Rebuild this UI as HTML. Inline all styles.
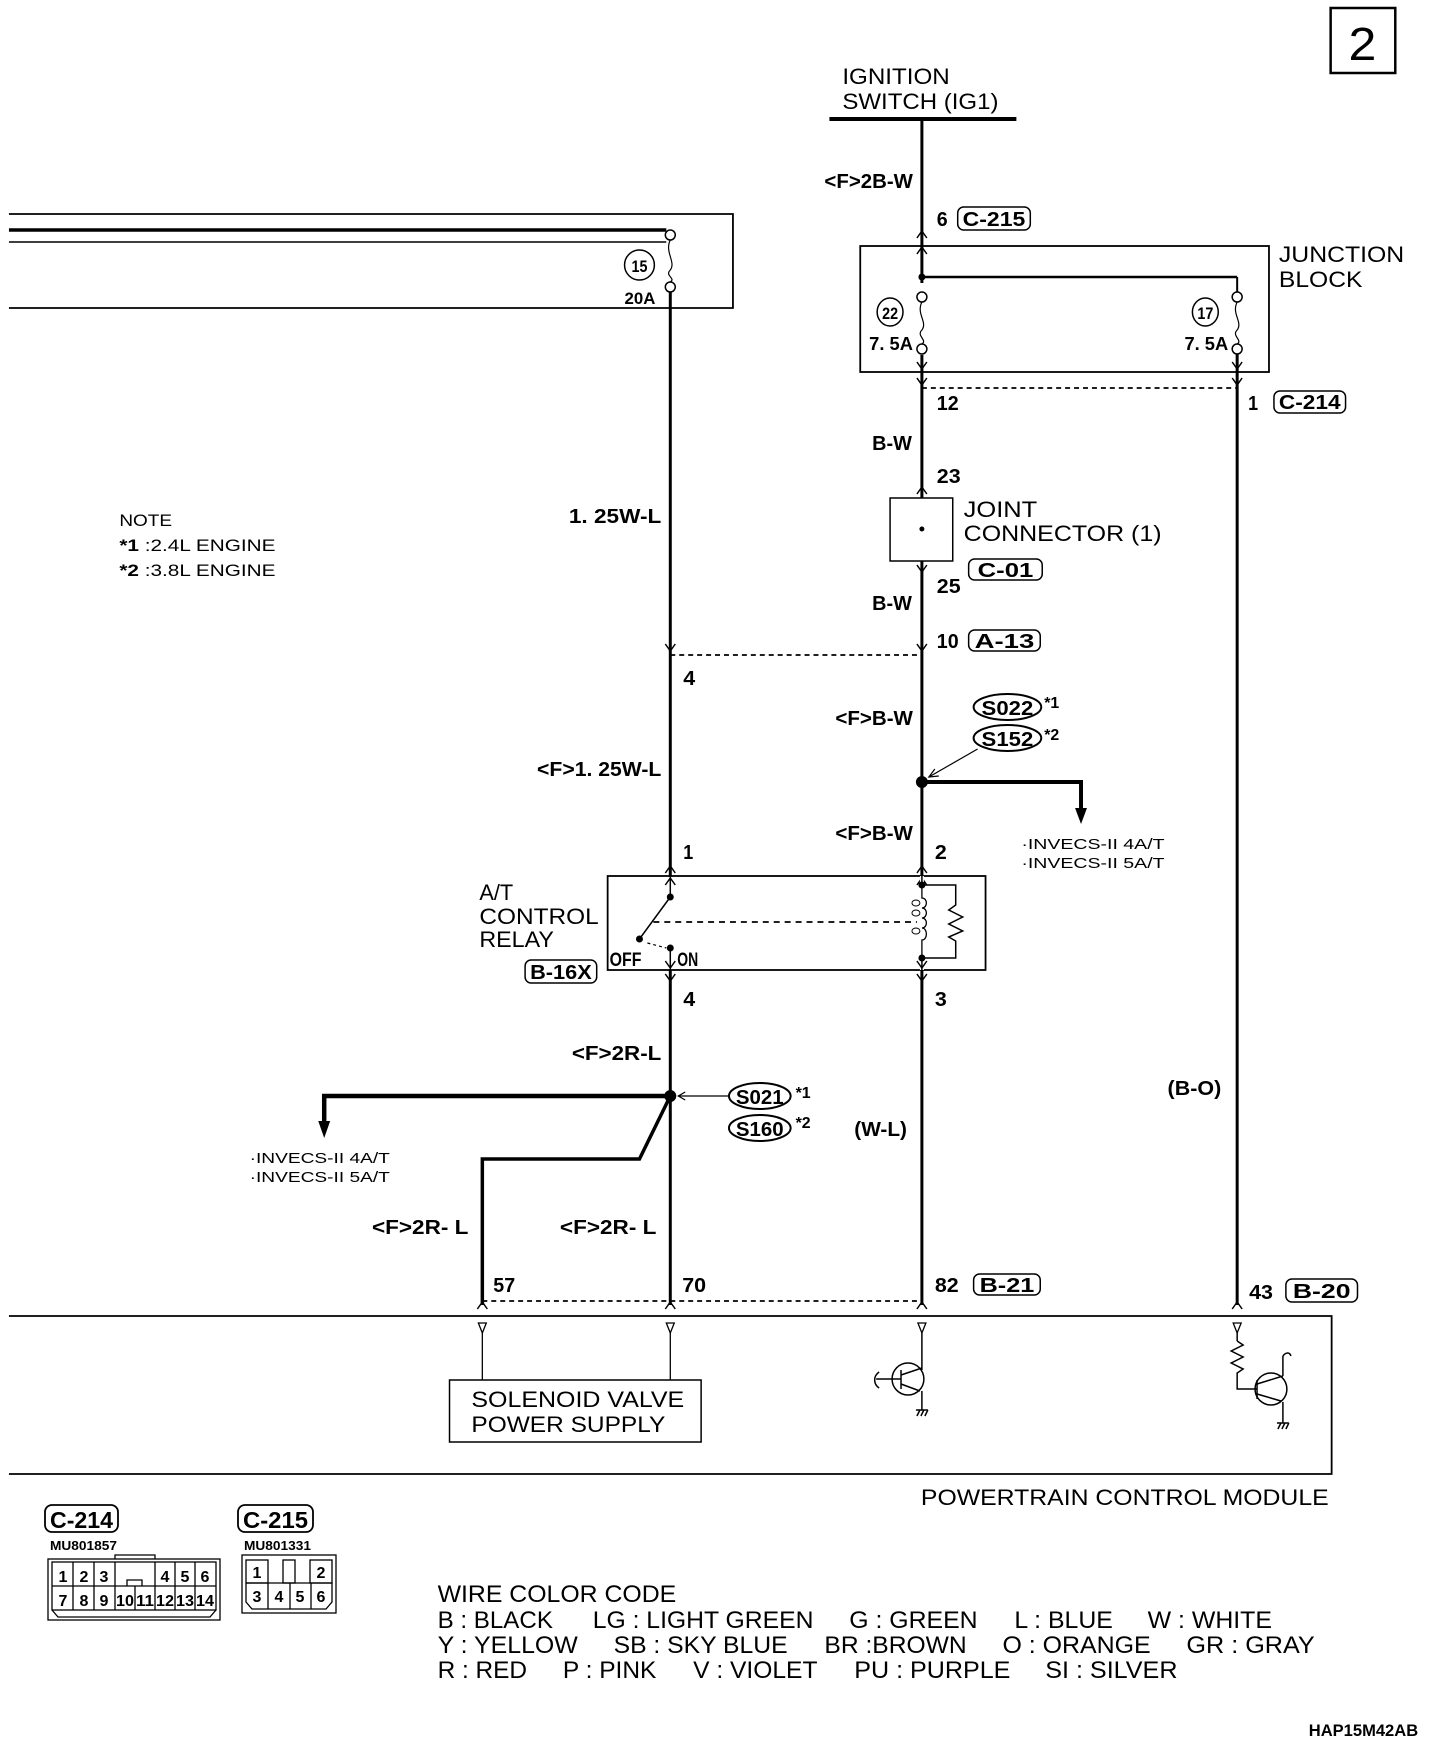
<!DOCTYPE html>
<html><head><meta charset="utf-8"><style>
html,body{margin:0;padding:0;background:#fff;}
svg{display:block;}
text{font-family:"Liberation Sans",sans-serif;fill:#000;}
.b{font-weight:bold;}
</style></head><body>
<svg width="1440" height="1740" viewBox="0 0 1440 1740" xmlns="http://www.w3.org/2000/svg">
<defs>
<g id="up"><polyline points="-5,7 0,0 5,7" fill="none" stroke="#000" stroke-width="1.5"/></g>
<g id="dn"><polyline points="-5,-7 0,0 5,-7" fill="none" stroke="#000" stroke-width="1.5"/></g>
</defs>
<g transform="scale(0.9945 1)" stroke-linecap="butt">
<!-- page number -->
<rect x="1338" y="8" width="65" height="65" fill="none" stroke="#000" stroke-width="2.5"/>
<text x="1370" y="60" font-size="46" text-anchor="middle" textLength="28" lengthAdjust="spacingAndGlyphs">2</text>

<!-- ignition -->
<text x="847" y="84" font-size="22" textLength="108" lengthAdjust="spacingAndGlyphs">IGNITION</text>
<text x="847" y="109" font-size="22" textLength="157" lengthAdjust="spacingAndGlyphs">SWITCH (IG1)</text>
<line x1="834" y1="119" x2="1022" y2="119" stroke="#000" stroke-width="4"/>
<line x1="927" y1="119" x2="927" y2="1305" stroke="#000" stroke-width="3"/>
<text x="829" y="188" font-size="20" class="b" textLength="89" lengthAdjust="spacingAndGlyphs">&lt;F&gt;2B-W</text>
<text x="942" y="226" font-size="20" class="b" textLength="11" lengthAdjust="spacingAndGlyphs">6</text>
<rect x="963" y="207" width="73" height="23" rx="6" fill="none" stroke="#000" stroke-width="1.5"/>
<text x="968" y="226" font-size="20" class="b" textLength="63" lengthAdjust="spacingAndGlyphs">C-215</text>
<use href="#up" x="927" y="231"/><use href="#up" x="927" y="247"/>

<!-- top-left box -->
<polyline points="9,214 737,214 737,308 9,308" fill="none" stroke="#000" stroke-width="1.8"/>
<line x1="9" y1="230" x2="670" y2="230" stroke="#000" stroke-width="3.5"/>
<line x1="9" y1="242" x2="670" y2="242" stroke="#000" stroke-width="1.5"/>
<circle cx="674" cy="235" r="5" fill="#fff" stroke="#000" stroke-width="1.5"/>
<circle cx="674" cy="287" r="5" fill="#fff" stroke="#000" stroke-width="1.5"/>
<path d="M674,240 C668,252 680,262 674,270 C668,276 680,278 674,282" fill="none" stroke="#000" stroke-width="1.2"/>
<ellipse cx="643" cy="265" rx="15" ry="15" fill="none" stroke="#000" stroke-width="1.5"/>
<text x="643" y="272" font-size="17" class="b" text-anchor="middle" textLength="16" lengthAdjust="spacingAndGlyphs">15</text>
<text x="628" y="304" font-size="17" class="b" textLength="31" lengthAdjust="spacingAndGlyphs">20A</text>
<line x1="674" y1="292" x2="674" y2="1305" stroke="#000" stroke-width="3"/>

<!-- junction block -->
<rect x="865" y="246" width="411" height="126" fill="none" stroke="#000" stroke-width="1.8"/>
<text x="1286" y="262" font-size="22" textLength="126" lengthAdjust="spacingAndGlyphs">JUNCTION</text>
<text x="1286" y="287" font-size="22" textLength="84" lengthAdjust="spacingAndGlyphs">BLOCK</text>
<line x1="927" y1="277" x2="1244" y2="277" stroke="#000" stroke-width="2.5"/>
<line x1="1244" y1="277" x2="1244" y2="292" stroke="#000" stroke-width="2"/>
<circle cx="927" cy="277" r="3.5" fill="#000"/>
<rect x="920" y="283" width="14" height="72" fill="#fff"/>
<circle cx="927" cy="297" r="5" fill="#fff" stroke="#000" stroke-width="1.5"/>
<circle cx="927" cy="349" r="5" fill="#fff" stroke="#000" stroke-width="1.5"/>
<path d="M927,302 C921,314 933,322 927,330 C921,336 933,340 927,344" fill="none" stroke="#000" stroke-width="1.2"/>
<circle cx="1244" cy="297" r="5" fill="#fff" stroke="#000" stroke-width="1.5"/>
<circle cx="1244" cy="349" r="5" fill="#fff" stroke="#000" stroke-width="1.5"/>
<path d="M1244,302 C1238,314 1250,322 1244,330 C1238,336 1250,340 1244,344" fill="none" stroke="#000" stroke-width="1.2"/>
<ellipse cx="895" cy="312" rx="13" ry="14" fill="none" stroke="#000" stroke-width="1.5"/>
<text x="895" y="319" font-size="17" class="b" text-anchor="middle" textLength="16" lengthAdjust="spacingAndGlyphs">22</text>
<text x="874" y="350" font-size="18" class="b" textLength="44" lengthAdjust="spacingAndGlyphs">7. 5A</text>
<ellipse cx="1212" cy="312" rx="13" ry="14" fill="none" stroke="#000" stroke-width="1.5"/>
<text x="1212" y="319" font-size="17" class="b" text-anchor="middle" textLength="16" lengthAdjust="spacingAndGlyphs">17</text>
<text x="1191" y="350" font-size="18" class="b" textLength="44" lengthAdjust="spacingAndGlyphs">7. 5A</text>
<line x1="1244" y1="354" x2="1244" y2="1305" stroke="#000" stroke-width="3"/>
<use href="#dn" x="927" y="369"/><use href="#dn" x="927" y="385"/>
<use href="#dn" x="1244" y="369"/><use href="#dn" x="1244" y="385"/>
<line x1="927" y1="388" x2="1244" y2="388" stroke="#000" stroke-width="1.8" stroke-dasharray="5,4"/>
<text x="942" y="410" font-size="20" class="b" textLength="22" lengthAdjust="spacingAndGlyphs">12</text>
<text x="1255" y="410" font-size="20" class="b" textLength="10" lengthAdjust="spacingAndGlyphs">1</text>
<rect x="1281" y="391" width="72" height="22" rx="6" fill="none" stroke="#000" stroke-width="1.5"/>
<text x="1286" y="409" font-size="20" class="b" textLength="62" lengthAdjust="spacingAndGlyphs">C-214</text>

<text x="877" y="450" font-size="20" class="b" textLength="40" lengthAdjust="spacingAndGlyphs">B-W</text>
<text x="942" y="483" font-size="20" class="b" textLength="24" lengthAdjust="spacingAndGlyphs">23</text>
<use href="#up" x="927" y="487"/>
<!-- joint connector -->
<rect x="895" y="498" width="63" height="63" fill="#fff" stroke="#000" stroke-width="1.5"/>
<circle cx="927" cy="529" r="2.5" fill="#000"/>
<text x="969" y="517" font-size="22" textLength="74" lengthAdjust="spacingAndGlyphs">JOINT</text>
<text x="969" y="541" font-size="22" textLength="199" lengthAdjust="spacingAndGlyphs">CONNECTOR (1)</text>
<rect x="974" y="559" width="74" height="21" rx="6" fill="none" stroke="#000" stroke-width="1.5"/>
<text x="983" y="577" font-size="20" class="b" textLength="56" lengthAdjust="spacingAndGlyphs">C-01</text>
<use href="#dn" x="927" y="572"/>
<text x="942" y="593" font-size="20" class="b" textLength="24" lengthAdjust="spacingAndGlyphs">25</text>
<text x="572" y="523" font-size="20" class="b" textLength="93" lengthAdjust="spacingAndGlyphs">1. 25W-L</text>

<!-- note -->
<text x="120" y="526" font-size="17" textLength="53" lengthAdjust="spacingAndGlyphs">NOTE</text>
<text x="120" y="551" font-size="17" textLength="157" lengthAdjust="spacingAndGlyphs"><tspan class="b">*1</tspan> :2.4L ENGINE</text>
<text x="120" y="576" font-size="17" textLength="157" lengthAdjust="spacingAndGlyphs"><tspan class="b">*2</tspan> :3.8L ENGINE</text>

<text x="877" y="610" font-size="20" class="b" textLength="40" lengthAdjust="spacingAndGlyphs">B-W</text>
<text x="942" y="648" font-size="20" class="b" textLength="22" lengthAdjust="spacingAndGlyphs">10</text>
<rect x="974" y="630" width="72" height="21" rx="6" fill="none" stroke="#000" stroke-width="1.5"/>
<text x="980" y="648" font-size="20" class="b" textLength="60" lengthAdjust="spacingAndGlyphs">A-13</text>
<use href="#dn" x="674" y="651"/><use href="#dn" x="927" y="651"/>
<line x1="674" y1="655" x2="927" y2="655" stroke="#000" stroke-width="1.8" stroke-dasharray="5,4"/>
<text x="687" y="685" font-size="20" class="b" textLength="12" lengthAdjust="spacingAndGlyphs">4</text>

<ellipse cx="1013" cy="707" rx="34" ry="13" fill="none" stroke="#000" stroke-width="2"/>
<text x="1013" y="715" font-size="20" class="b" text-anchor="middle" textLength="52" lengthAdjust="spacingAndGlyphs">S022</text>
<ellipse cx="1013" cy="738" rx="34" ry="13" fill="none" stroke="#000" stroke-width="2"/>
<text x="1013" y="746" font-size="20" class="b" text-anchor="middle" textLength="52" lengthAdjust="spacingAndGlyphs">S152</text>
<text x="1050" y="708" font-size="16" class="b">*1</text>
<text x="1050" y="740" font-size="16" class="b">*2</text>
<line x1="983" y1="749" x2="934" y2="777" stroke="#000" stroke-width="1.2"/>
<polyline points="940,769 934,777 944,776" fill="none" stroke="#000" stroke-width="1.2"/>
<text x="840" y="725" font-size="20" class="b" textLength="78" lengthAdjust="spacingAndGlyphs">&lt;F&gt;B-W</text>
<circle cx="927" cy="782" r="6" fill="#000"/>
<polyline points="927,782 1087,782 1087,812" fill="none" stroke="#000" stroke-width="4"/>
<polygon points="1081,808 1093,808 1087,824" fill="#000"/>
<text x="1027" y="849" font-size="15" textLength="144" lengthAdjust="spacingAndGlyphs">·INVECS-II 4A/T</text>
<text x="1027" y="868" font-size="15" textLength="144" lengthAdjust="spacingAndGlyphs">·INVECS-II 5A/T</text>
<text x="540" y="776" font-size="20" class="b" textLength="125" lengthAdjust="spacingAndGlyphs">&lt;F&gt;1. 25W-L</text>
<text x="840" y="840" font-size="20" class="b" textLength="78" lengthAdjust="spacingAndGlyphs">&lt;F&gt;B-W</text>
<text x="687" y="859" font-size="20" class="b" textLength="10" lengthAdjust="spacingAndGlyphs">1</text>
<text x="940" y="859" font-size="20" class="b" textLength="12" lengthAdjust="spacingAndGlyphs">2</text>

<!-- relay -->
<use href="#up" x="674" y="866"/><use href="#up" x="674" y="878"/>
<use href="#up" x="927" y="866"/><use href="#up" x="927" y="878"/>
<rect x="611" y="876" width="380" height="94" fill="#fff" stroke="#000" stroke-width="1.8"/>
<use href="#up" x="674" y="878"/><use href="#up" x="927" y="878"/>
<line x1="674" y1="876" x2="674" y2="897" stroke="#000" stroke-width="1.5"/>
<circle cx="674" cy="897" r="3.5" fill="#000"/>
<line x1="674" y1="897" x2="643" y2="939" stroke="#000" stroke-width="1.5"/>
<circle cx="643" cy="939" r="3.5" fill="#000"/>
<circle cx="674" cy="948" r="3.5" fill="#000"/>
<line x1="674" y1="948" x2="674" y2="970" stroke="#000" stroke-width="1.5"/>
<line x1="651" y1="943" x2="670" y2="948" stroke="#000" stroke-width="1.2" stroke-dasharray="3,3"/>
<line x1="657" y1="922" x2="922" y2="922" stroke="#000" stroke-width="1.8" stroke-dasharray="6,5"/>
<text x="613" y="966" font-size="19" class="b" textLength="32" lengthAdjust="spacingAndGlyphs">OFF</text>
<text x="681" y="966" font-size="19" class="b" textLength="21" lengthAdjust="spacingAndGlyphs">ON</text>
<line x1="927" y1="876" x2="927" y2="970" stroke="#fff" stroke-width="4"/>
<line x1="927" y1="876" x2="927" y2="885" stroke="#000" stroke-width="1.5"/>
<line x1="927" y1="958" x2="927" y2="970" stroke="#000" stroke-width="1.5"/>
<circle cx="927" cy="885" r="3.5" fill="#000"/>
<circle cx="927" cy="958" r="3.5" fill="#000"/>
<polyline points="927,885 961,885 961,905 954,910 968,917 954,924 968,931 954,937 961,941 961,958 927,958" fill="none" stroke="#000" stroke-width="1.5"/>
<path d="M927,885 L927,898 C933,898 933,908 927,908 C933,908 933,918 927,918 C933,918 933,928 927,928 C933,928 933,940 927,940 L927,958" fill="none" stroke="#000" stroke-width="1.3"/>
<ellipse cx="921" cy="903" rx="4" ry="3" fill="none" stroke="#000" stroke-width="1"/>
<ellipse cx="921" cy="913" rx="4" ry="3" fill="none" stroke="#000" stroke-width="1"/>
<ellipse cx="921" cy="931" rx="4" ry="3" fill="none" stroke="#000" stroke-width="1"/>
<text x="482" y="900" font-size="22" textLength="34" lengthAdjust="spacingAndGlyphs">A/T</text>
<text x="482" y="924" font-size="22" textLength="120" lengthAdjust="spacingAndGlyphs">CONTROL</text>
<text x="482" y="947" font-size="22" textLength="75" lengthAdjust="spacingAndGlyphs">RELAY</text>
<rect x="528" y="960" width="72" height="23" rx="6" fill="none" stroke="#000" stroke-width="1.5"/>
<text x="533" y="979" font-size="20" class="b" textLength="62" lengthAdjust="spacingAndGlyphs">B-16X</text>
<use href="#dn" x="674" y="968"/><use href="#dn" x="674" y="981"/>
<use href="#dn" x="927" y="968"/><use href="#dn" x="927" y="981"/>
<text x="687" y="1006" font-size="20" class="b" textLength="12" lengthAdjust="spacingAndGlyphs">4</text>
<text x="940" y="1006" font-size="20" class="b" textLength="12" lengthAdjust="spacingAndGlyphs">3</text>

<text x="575" y="1060" font-size="20" class="b" textLength="90" lengthAdjust="spacingAndGlyphs">&lt;F&gt;2R-L</text>
<!-- splice 2 -->
<polyline points="674,1096 326,1096 326,1124" fill="none" stroke="#000" stroke-width="4.5"/>
<polygon points="320,1121 332,1121 326,1138" fill="#000"/>
<polyline points="674,1096 643,1159 485,1159 485,1305" fill="none" stroke="#000" stroke-width="3.5"/>
<circle cx="674" cy="1096" r="6" fill="#000"/>
<line x1="733" y1="1096" x2="682" y2="1096" stroke="#000" stroke-width="1.2"/>
<polyline points="689,1092 682,1096 689,1100" fill="none" stroke="#000" stroke-width="1.2"/>
<ellipse cx="764" cy="1096" rx="31" ry="13" fill="none" stroke="#000" stroke-width="2"/>
<text x="764" y="1104" font-size="20" class="b" text-anchor="middle" textLength="48" lengthAdjust="spacingAndGlyphs">S021</text>
<ellipse cx="764" cy="1128" rx="31" ry="13" fill="none" stroke="#000" stroke-width="2"/>
<text x="764" y="1136" font-size="20" class="b" text-anchor="middle" textLength="48" lengthAdjust="spacingAndGlyphs">S160</text>
<text x="800" y="1098" font-size="16" class="b">*1</text>
<text x="800" y="1128" font-size="16" class="b">*2</text>
<text x="859" y="1136" font-size="20" class="b" textLength="53" lengthAdjust="spacingAndGlyphs">(W-L)</text>
<text x="1174" y="1095" font-size="20" class="b" textLength="54" lengthAdjust="spacingAndGlyphs">(B-O)</text>
<text x="251" y="1163" font-size="15" textLength="141" lengthAdjust="spacingAndGlyphs">·INVECS-II 4A/T</text>
<text x="251" y="1182" font-size="15" textLength="141" lengthAdjust="spacingAndGlyphs">·INVECS-II 5A/T</text>

<text x="374" y="1234" font-size="20" class="b" textLength="97" lengthAdjust="spacingAndGlyphs">&lt;F&gt;2R- L</text>
<text x="563" y="1234" font-size="20" class="b" textLength="97" lengthAdjust="spacingAndGlyphs">&lt;F&gt;2R- L</text>
<text x="496" y="1292" font-size="20" class="b" textLength="22" lengthAdjust="spacingAndGlyphs">57</text>
<text x="686" y="1292" font-size="20" class="b" textLength="24" lengthAdjust="spacingAndGlyphs">70</text>
<text x="940" y="1292" font-size="20" class="b" textLength="24" lengthAdjust="spacingAndGlyphs">82</text>
<rect x="979" y="1274" width="67" height="21" rx="6" fill="none" stroke="#000" stroke-width="1.5"/>
<text x="985" y="1292" font-size="20" class="b" textLength="55" lengthAdjust="spacingAndGlyphs">B-21</text>
<text x="1256" y="1299" font-size="20" class="b" textLength="24" lengthAdjust="spacingAndGlyphs">43</text>
<rect x="1293" y="1279" width="72" height="23" rx="6" fill="none" stroke="#000" stroke-width="1.5"/>
<text x="1300" y="1298" font-size="20" class="b" textLength="58" lengthAdjust="spacingAndGlyphs">B-20</text>
<line x1="485" y1="1301" x2="927" y2="1301" stroke="#000" stroke-width="1.8" stroke-dasharray="5,4"/>
<use href="#up" x="485" y="1302"/><use href="#up" x="674" y="1302"/><use href="#up" x="927" y="1302"/><use href="#up" x="1244" y="1302"/>

<!-- PCM -->
<polyline points="9,1316 1339,1316 1339,1474 9,1474" fill="none" stroke="#000" stroke-width="1.8"/>
<g fill="none" stroke="#000" stroke-width="1.3">
<polygon points="481,1323 489,1323 485,1333"/><polygon points="670,1323 678,1323 674,1333"/>
<polygon points="923,1323 931,1323 927,1333"/><polygon points="1240,1323 1248,1323 1244,1333"/>
<line x1="485" y1="1333" x2="485" y2="1380"/><line x1="674" y1="1333" x2="674" y2="1380"/>
</g>
<rect x="452" y="1380" width="253" height="62" fill="none" stroke="#000" stroke-width="1.5"/>
<text x="474" y="1407" font-size="22" textLength="214" lengthAdjust="spacingAndGlyphs">SOLENOID VALVE</text>
<text x="474" y="1432" font-size="22" textLength="195" lengthAdjust="spacingAndGlyphs">POWER SUPPLY</text>
<!-- transistor 1 -->
<g fill="none" stroke="#000" stroke-width="1.5">
<line x1="927" y1="1333" x2="927" y2="1370"/>
<circle cx="913" cy="1379" r="16"/>
<line x1="906" y1="1370" x2="906" y2="1389"/>
<line x1="881" y1="1379" x2="906" y2="1379"/>
<path d="M884,1372 C878,1376 878,1384 884,1388"/>
<line x1="906" y1="1375" x2="927" y2="1368"/>
<line x1="906" y1="1384" x2="925" y2="1391"/>
<line x1="927" y1="1391" x2="927" y2="1410"/>
<line x1="921" y1="1410" x2="933" y2="1410"/>
<line x1="922" y1="1416" x2="925" y2="1410"/><line x1="926" y1="1416" x2="929" y2="1410"/><line x1="930" y1="1416" x2="933" y2="1410"/>
</g>
<!-- transistor 2 -->
<g fill="none" stroke="#000" stroke-width="1.5">
<line x1="1244" y1="1333" x2="1244" y2="1341"/>
<polyline points="1244,1341 1250,1345 1238,1351 1250,1357 1238,1363 1250,1369 1244,1373 1244,1389 1264,1389"/>
<circle cx="1278" cy="1389" r="16"/>
<line x1="1264" y1="1380" x2="1264" y2="1399"/>
<line x1="1264" y1="1384" x2="1290" y2="1376"/>
<line x1="1264" y1="1394" x2="1288" y2="1401"/>
<line x1="1290" y1="1376" x2="1290" y2="1356"/>
<path d="M1290,1356 C1293,1352 1297,1352 1298,1356"/>
<line x1="1290" y1="1402" x2="1290" y2="1423"/>
<line x1="1284" y1="1423" x2="1296" y2="1423"/>
<line x1="1285" y1="1429" x2="1288" y2="1423"/><line x1="1289" y1="1429" x2="1292" y2="1423"/><line x1="1293" y1="1429" x2="1296" y2="1423"/>
</g>
<text x="926" y="1505" font-size="22" textLength="410" lengthAdjust="spacingAndGlyphs">POWERTRAIN CONTROL MODULE</text>

<!-- wire color code -->
<g font-size="24">
<text x="440" y="1602" textLength="240" lengthAdjust="spacingAndGlyphs">WIRE COLOR CODE</text>
<text x="440" y="1628" textLength="116" lengthAdjust="spacingAndGlyphs">B : BLACK</text>
<text x="596" y="1628" textLength="222" lengthAdjust="spacingAndGlyphs">LG : LIGHT GREEN</text>
<text x="854" y="1628" textLength="129" lengthAdjust="spacingAndGlyphs">G : GREEN</text>
<text x="1020" y="1628" textLength="99" lengthAdjust="spacingAndGlyphs">L : BLUE</text>
<text x="1154" y="1628" textLength="125" lengthAdjust="spacingAndGlyphs">W : WHITE</text>
<text x="440" y="1653" textLength="141" lengthAdjust="spacingAndGlyphs">Y : YELLOW</text>
<text x="617" y="1653" textLength="175" lengthAdjust="spacingAndGlyphs">SB : SKY BLUE</text>
<text x="829" y="1653" textLength="143" lengthAdjust="spacingAndGlyphs">BR :BROWN</text>
<text x="1008" y="1653" textLength="149" lengthAdjust="spacingAndGlyphs">O : ORANGE</text>
<text x="1193" y="1653" textLength="129" lengthAdjust="spacingAndGlyphs">GR : GRAY</text>
<text x="440" y="1678" textLength="90" lengthAdjust="spacingAndGlyphs">R : RED</text>
<text x="566" y="1678" textLength="94" lengthAdjust="spacingAndGlyphs">P : PINK</text>
<text x="697" y="1678" textLength="125" lengthAdjust="spacingAndGlyphs">V : VIOLET</text>
<text x="859" y="1678" textLength="157" lengthAdjust="spacingAndGlyphs">PU : PURPLE</text>
<text x="1051" y="1678" textLength="133" lengthAdjust="spacingAndGlyphs">SI : SILVER</text>
</g>
<text x="1316" y="1736" font-size="17" class="b" textLength="110" lengthAdjust="spacingAndGlyphs">HAP15M42AB</text>
</g>

<!-- connectors legend (real coords) -->
<rect x="45" y="1505" width="73" height="27" rx="7" fill="none" stroke="#000" stroke-width="1.8"/>
<text x="50" y="1528" font-size="23" class="b" textLength="63" lengthAdjust="spacingAndGlyphs">C-214</text>
<text x="50" y="1550" font-size="13" class="b" textLength="67" lengthAdjust="spacingAndGlyphs">MU801857</text>
<g fill="none" stroke="#000" stroke-width="1.3">
<rect x="48" y="1559" width="172" height="61"/>
<polyline points="115,1559 115,1555 155,1555 155,1559"/>
<rect x="52" y="1562" width="164" height="48"/>
<line x1="52" y1="1586" x2="216" y2="1586"/>
<line x1="73" y1="1562" x2="73" y2="1610"/><line x1="94" y1="1562" x2="94" y2="1610"/><line x1="115" y1="1562" x2="115" y2="1610"/>
<line x1="135" y1="1586" x2="135" y2="1610"/>
<line x1="155" y1="1562" x2="155" y2="1610"/><line x1="175" y1="1562" x2="175" y2="1610"/><line x1="195" y1="1562" x2="195" y2="1610"/>
<polyline points="127,1586 127,1580 142,1580 142,1586"/>
<polyline points="52,1610 58,1617 210,1617 216,1610"/>
</g>
<g font-size="16" class="b" text-anchor="middle">
<text x="63" y="1582">1</text><text x="84" y="1582">2</text><text x="104" y="1582">3</text>
<text x="165" y="1582">4</text><text x="185" y="1582">5</text><text x="205" y="1582">6</text>
<text x="63" y="1606">7</text><text x="84" y="1606">8</text><text x="104" y="1606">9</text>
<text x="125" y="1606" textLength="18" lengthAdjust="spacingAndGlyphs">10</text><text x="145" y="1606" textLength="18" lengthAdjust="spacingAndGlyphs">11</text>
<text x="165" y="1606" textLength="18" lengthAdjust="spacingAndGlyphs">12</text><text x="185" y="1606" textLength="18" lengthAdjust="spacingAndGlyphs">13</text><text x="205" y="1606" textLength="18" lengthAdjust="spacingAndGlyphs">14</text>
</g>
<rect x="238" y="1505" width="75" height="27" rx="7" fill="none" stroke="#000" stroke-width="1.8"/>
<text x="243" y="1528" font-size="23" class="b" textLength="65" lengthAdjust="spacingAndGlyphs">C-215</text>
<text x="244" y="1550" font-size="13" class="b" textLength="67" lengthAdjust="spacingAndGlyphs">MU801331</text>
<g fill="none" stroke="#000" stroke-width="1.3">
<rect x="242" y="1555" width="94" height="58"/>
<rect x="246" y="1560" width="22" height="23"/>
<rect x="283" y="1560" width="12" height="23"/>
<rect x="310" y="1560" width="22" height="23"/>
<polyline points="246,1583 332,1583 332,1602 326,1609 252,1609 246,1602 246,1583"/>
<line x1="268" y1="1583" x2="268" y2="1609"/><line x1="290" y1="1583" x2="290" y2="1609"/><line x1="311" y1="1583" x2="311" y2="1609"/>
</g>
<g font-size="16" class="b" text-anchor="middle">
<text x="257" y="1578">1</text><text x="321" y="1578">2</text>
<text x="257" y="1602">3</text><text x="279" y="1602">4</text><text x="300" y="1602">5</text><text x="321" y="1602">6</text>
</g>
</svg>
</body></html>
